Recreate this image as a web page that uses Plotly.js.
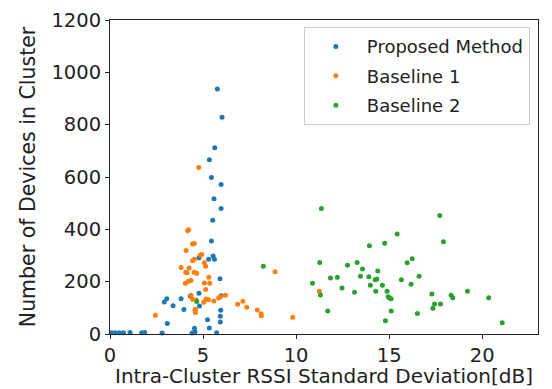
<!DOCTYPE html>
<html><head><meta charset="utf-8">
<script src="https://cdn.plot.ly/plotly-3.0.1.min.js"></script>
<style>html,body{margin:0;padding:0;background:#fff}#chart{width:552px;height:389px}</style>
</head><body><div id="chart"></div>
<script>
const seriesNames = ["Proposed Method", "Baseline 1", "Baseline 2"];
const seriesColors = ["#1f77b4", "#ff7f0e", "#2ca02c"];

const proposedX = [0.09,0.27,0.5,0.72,1.08,1.70,1.86,2.80,3.08,2.92,3.05,3.39,3.82,3.97,4.31,4.41,4.54,4.57,4.57,4.78,4.81,4.78,5.24,5.30,5.34,5.45,5.54,5.61,5.52,5.59,5.45,5.34,5.63,5.77,6.02,5.97,5.97,5.91,5.97,5.95,5.93,5.93,5.73];
const proposedY = [5,5,5,5,6,5,6,4,40,122,135,108,135,94,145,4,22,9,92,156,107,291,54,286,23,355,298,286,435,517,598,666,712,936,828,571,480,211,146,91,68,46,5];

const baseline1X = [2.44,3.82,4.05,4.07,4.09,4.14,4.17,4.22,4.21,4.25,4.35,4.35,4.43,4.44,4.44,4.53,4.53,4.52,4.59,4.59,4.64,4.66,4.77,4.84,4.93,5.04,5.07,5.07,5.14,5.14,5.16,5.29,5.31,5.36,5.58,5.84,5.94,6.21,6.86,7.14,7.35,7.92,8.12,8.13,8.87,9.82,11.25];
const baseline1Y = [72,254,194,236,319,234,395,398,202,252,204,148,344,280,133,346,286,236,95,82,130,232,636,301,304,121,272,195,259,170,134,131,217,194,126,138,142,148,114,125,102,92,77,70,238,64,163];

const baseline2X = [4.66,8.24,10.88,11.27,11.31,11.36,11.70,11.85,12.22,12.47,12.76,13.14,13.28,13.46,13.57,13.91,13.94,13.99,14.25,14.28,14.34,14.39,14.64,14.76,14.80,14.89,14.95,15.02,15.11,15.11,15.43,15.66,15.97,16.18,16.24,16.52,16.61,17.30,17.35,17.44,17.72,17.76,17.92,18.33,18.42,19.21,20.35,21.08];
const baseline2Y = [124,259,194,273,149,480,88,214,217,176,263,160,273,221,248,219,337,186,207,163,210,241,186,347,51,163,142,138,135,88,382,207,272,190,288,78,221,153,98,115,453,115,353,148,139,163,139,43];

const xTicks = [0,5,10,15,20];
const yTicks = [0,200,400,600,800,1000,1200];
const xTitle = 'Intra-Cluster RSSI Standard Deviation[dB]';
const yTitle = 'Number of Devices in Cluster';

const FONT = '"DejaVu Sans", "Noto Sans", sans-serif';
const xs = [proposedX, baseline1X, baseline2X];
const ys = [proposedY, baseline1Y, baseline2Y];
const traces = seriesNames.map((n, i) => ({
  type: 'scatter', mode: 'markers', name: n, x: xs[i], y: ys[i],
  legendgroup: 'g' + i,
  marker: {color: seriesColors[i], size: 5},
  cliponaxis: false
}));

const axisCommon = {
  showgrid: false, zeroline: false, showline: true, mirror: true,
  linecolor: '#222', linewidth: 1, ticks: 'outside', ticklen: 4, tickwidth: 1,
  tickcolor: '#222', tickfont: {family: FONT, size: 19.5, color: '#222'}
};

const layout = {
  width: 552, height: 389,
  margin: {l: 110, r: 14, t: 20, b: 55, pad: 0},
  paper_bgcolor: '#fff', plot_bgcolor: '#fff',
  showlegend: true,
  legend: {
    x: 0.981, y: 0.977, xanchor: 'right', yanchor: 'top',
    bgcolor: 'rgba(255,255,255,0.8)', bordercolor: '#cccccc', borderwidth: 1,
    font: {family: FONT, size: 18, color: '#222'},
    tracegroupgap: 3, traceorder: 'grouped', itemwidth: 52
  },
  xaxis: Object.assign({}, axisCommon, {
    range: [0, 23.0], tickvals: xTicks, ticktext: xTicks.map(String)
  }),
  yaxis: Object.assign({}, axisCommon, {
    range: [0, 1200], tickvals: yTicks, ticktext: yTicks.map(String),
    title: {text: yTitle, font: {family: FONT, size: 20.5, color: '#222'}, standoff: 10}
  }),
  annotations: [{
    text: xTitle, xref: 'paper', yref: 'paper', x: 0.5, y: -0.1752,
    xanchor: 'center', yanchor: 'bottom', showarrow: false, borderpad: 0,
    font: {family: FONT, size: 20, color: '#222'}
  }]
};

Plotly.newPlot('chart', traces, layout, {displayModeBar: false, staticPlot: true});
</script></body></html>
